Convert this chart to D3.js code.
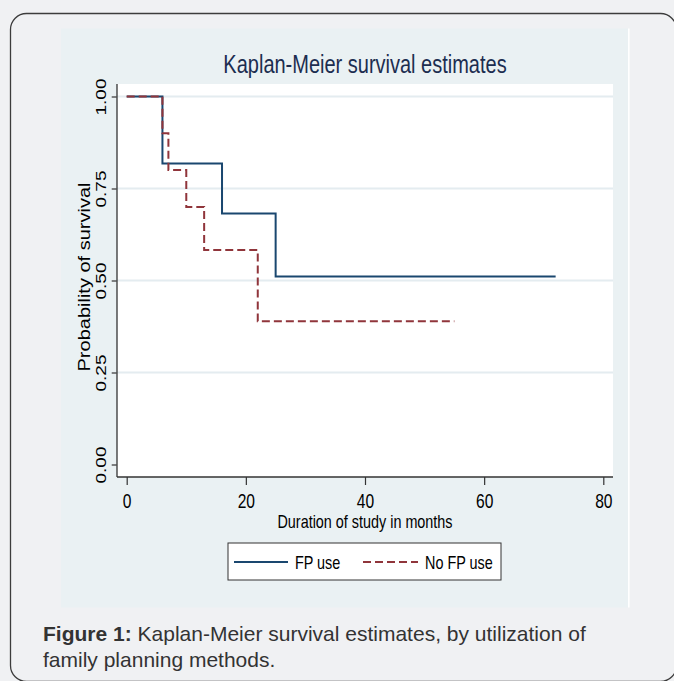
<!DOCTYPE html>
<html lang="en">
<head>
<meta charset="utf-8">
<title>Kaplan-Meier</title>
<style>
  body { margin: 0; background: #f0f1f3; }
  svg { display: block; }
  text { font-family: "Liberation Sans", Arial, sans-serif; }
</style>
</head>
<body>
<div id="chart"></div>
<script src="https://cdn.jsdelivr.net/npm/d3@7"></script>
<script>
// survival step data
var timesFP = [0, 6, 16, 25, 72];
var survFP = [1, 0.818, 0.682, 0.511, 0.511];
var timesNoFP = [0, 6, 7, 10, 13, 22, 55];
var survNoFP = [1, 0.9, 0.8, 0.7, 0.583, 0.389, 0.389];

var xTicks = [0, 20, 40, 60, 80];
var yTicks = [0, 0.25, 0.5, 0.75, 1];
var yTickLabels = ["0.00", "0.25", "0.50", "0.75", "1.00"];
var seriesNames = ["FP use", "No FP use"];

var width = 674, height = 681;
var sq = 0.8; // horizontal squeeze of the stata text

var svg = d3.select("#chart").append("svg")
    .attr("width", width)
    .attr("height", height);

// card
svg.append("rect")
    .attr("x", 10.5).attr("y", 13.5)
    .attr("width", 666).attr("height", 668)
    .attr("rx", 16)
    .attr("fill", "#f0f1f3")
    .attr("stroke", "#3c3c3c")
    .attr("stroke-width", 1.3);

// graph region
svg.append("rect")
    .attr("x", 61).attr("y", 28.5)
    .attr("width", 567).attr("height", 579)
    .attr("fill", "#eaf1f3");
svg.append("rect")
    .attr("x", 628).attr("y", 28.5)
    .attr("width", 1.6).attr("height", 579)
    .attr("fill", "#ffffff");

var plot = { left: 117, right: 613, top: 84, bottom: 477 };

svg.append("rect")
    .attr("x", plot.left).attr("y", plot.top)
    .attr("width", plot.right - plot.left)
    .attr("height", plot.bottom - plot.top)
    .attr("fill", "#ffffff");

var x = d3.scaleLinear().domain([0, 80]).range([126.7, 603.3]);
var y = d3.scaleLinear().domain([0, 1]).range([464.5, 96.5]);

// gridlines
svg.append("g")
  .selectAll("line")
  .data(yTicks.filter(function(d) { return d > 0; }))
  .enter().append("line")
    .attr("x1", plot.left).attr("x2", plot.right)
    .attr("y1", function(d) { return y(d); })
    .attr("y2", function(d) { return y(d); })
    .attr("stroke", "#e4ecf0")
    .attr("stroke-width", 2);

// axes
var xAxis = svg.append("g")
    .attr("transform", "translate(0," + plot.bottom + ")")
    .call(d3.axisBottom(x).tickValues(xTicks).tickSize(8).tickSizeOuter(0));
xAxis.select(".domain").remove();
xAxis.selectAll(".tick line").attr("stroke", "#333").attr("stroke-width", 1.2);
xAxis.selectAll(".tick text")
    .attr("y", 31).attr("dy", null)
    .attr("transform", "scale(" + sq + ",1)")
    .style("font-size", "19.5px")
    .style("font-family", "'Liberation Sans', Arial, sans-serif")
    .attr("fill", "#000");

var yAxis = svg.append("g")
    .attr("transform", "translate(" + (plot.left - 0.3) + ",0)")
    .call(d3.axisLeft(y).tickValues(yTicks).tickSize(5).tickSizeOuter(0)
      .tickFormat(function(d, i) { return yTickLabels[i]; }));
yAxis.select(".domain").remove();
yAxis.selectAll(".tick line").attr("stroke", "#333").attr("stroke-width", 1.2);
yAxis.selectAll(".tick text")
    .attr("x", 0).attr("y", 0).attr("dy", "0.36em")
    .attr("text-anchor", "middle")
    .attr("transform", "translate(-16.5,0) scale(" + sq + ",1) rotate(-90)")
    .style("font-size", "19px")
    .style("font-family", "'Liberation Sans', Arial, sans-serif")
    .attr("fill", "#000");

svg.append("line")
    .attr("x1", plot.left).attr("x2", plot.left)
    .attr("y1", plot.top).attr("y2", plot.bottom)
    .attr("stroke", "#333").attr("stroke-width", 1.3);
svg.append("line")
    .attr("x1", plot.left).attr("x2", plot.right)
    .attr("y1", plot.bottom).attr("y2", plot.bottom)
    .attr("stroke", "#333").attr("stroke-width", 1.3);

// curves
var step = d3.line()
    .x(function(d) { return x(d[0]); })
    .y(function(d) { return y(d[1]); })
    .curve(d3.curveStepAfter);

svg.append("path")
    .datum(d3.zip(timesFP, survFP))
    .attr("d", step)
    .attr("fill", "none")
    .attr("stroke", "#1a476f")
    .attr("stroke-width", 2);

svg.append("path")
    .datum(d3.zip(timesNoFP, survNoFP))
    .attr("d", step)
    .attr("fill", "none")
    .attr("stroke", "#90353b")
    .attr("stroke-width", 2)
    .attr("stroke-dasharray", "8,4");

// titles
function squeezed(g, txt, tx, ty, size, rot) {
  return g.append("text")
    .attr("transform", "translate(" + tx + "," + ty + ") scale(" + sq + ",1)" + (rot ? " rotate(-90)" : ""))
    .attr("text-anchor", rot ? "middle" : "start")
    .style("font-size", size + "px")
    .text(txt);
}

squeezed(svg, "Kaplan-Meier survival estimates", 365, 73, 25)
    .attr("text-anchor", "middle")
    .attr("fill", "#1c2d50");

squeezed(svg, "Duration of study in months", 365, 528, 18)
    .attr("text-anchor", "middle")
    .attr("fill", "#000");

squeezed(svg, "Probability of survival", 84, 277, 20, true)
    .attr("dy", "0.36em")
    .attr("fill", "#000");

// legend
var legend = svg.append("g");
legend.append("rect")
    .attr("x", 228).attr("y", 543)
    .attr("width", 273).attr("height", 37)
    .attr("fill", "#ffffff")
    .attr("stroke", "#333")
    .attr("stroke-width", 1);

var legendItems = [
  { name: seriesNames[0], color: "#1a476f", dash: null, x1: 234, x2: 288, tx: 295 },
  { name: seriesNames[1], color: "#90353b", dash: "8,4", x1: 363, x2: 418, tx: 425 }
];
legendItems.forEach(function(d) {
  legend.append("line")
      .attr("x1", d.x1).attr("x2", d.x2)
      .attr("y1", 562).attr("y2", 562)
      .attr("stroke", d.color)
      .attr("stroke-width", 2)
      .attr("stroke-dasharray", d.dash);
  squeezed(legend, d.name, d.tx, 568.5, 18).attr("fill", "#000");
});

// caption
var cap = svg.append("g")
    .style("font-size", "21px")
    .attr("fill", "#333");
var line1 = cap.append("text").attr("x", 43).attr("y", 641);
line1.append("tspan").style("font-weight", "bold").text("Figure 1:");
line1.append("tspan").text(" Kaplan-Meier survival estimates, by utilization of");
cap.append("text").attr("x", 43).attr("y", 667).text("family planning methods.");
</script>
</body>
</html>
